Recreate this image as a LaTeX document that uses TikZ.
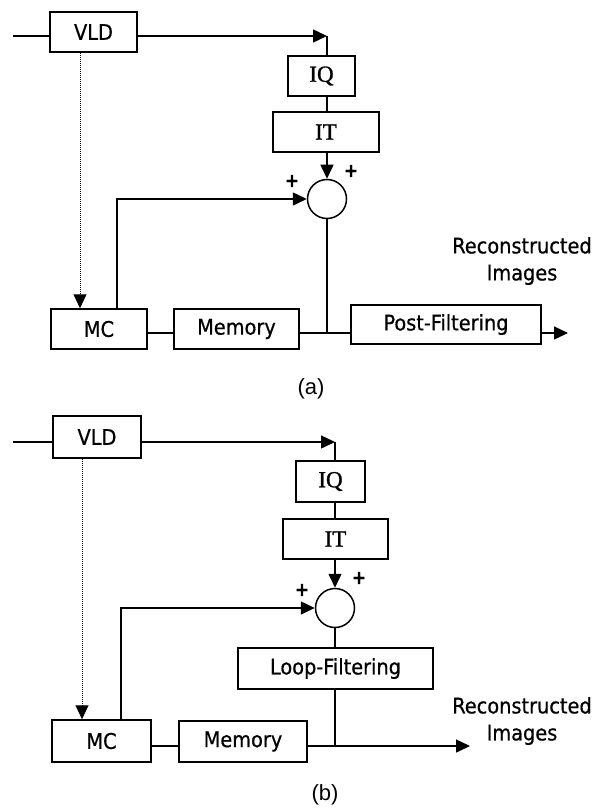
\documentclass[tikz,border=0pt]{standalone}
\usepackage{fontspec}
\setmainfont[FakeBold=0.6]{DejaVu Sans Condensed}
\newfontfamily\serifbox[FakeBold=1.2]{Liberation Serif}
\newfontfamily\captionfont{Liberation Sans}
\usetikzlibrary{arrows.meta}

\tikzset{
  blk/.style={draw, line width=1.5pt, inner sep=0pt, align=center,
              font=\fontsize{21.5}{24}\selectfont},
  sblk/.style={blk, font=\serifbox\fontsize{23}{26}\selectfont},
  sumnode/.style={draw, circle, line width=1.5pt, minimum size=39pt, inner sep=0pt},
  wire/.style={line width=1.5pt},
  arr/.style={wire, -{Triangle[length=14pt,width=13pt]}},
  dotwire/.style={line width=1pt, dash pattern=on 1pt off 1pt,
                  -{Triangle[length=14pt,width=13pt]}},
  sign/.style={font=\fontsize{19}{19}\selectfont\bfseries, inner sep=0pt},
  outlabel/.style={align=center, inner sep=0pt, font=\fontsize{21.5}{27}\selectfont},
  panel/.style={font=\captionfont\fontsize{22}{22}\selectfont, inner sep=0pt}
}

\begin{document}
\begin{tikzpicture}[x=1pt,y=-1pt]
\useasboundingbox (0,0) rectangle (603,810);

% ---------- decoder with post-filtering ----------
\node[blk, minimum width=87pt, minimum height=40pt] (vldA) at (93.5,32) {VLD};
\node[sblk, minimum width=67pt, minimum height=40pt] (iqA) at (321.5,76) {IQ};
\node[sblk, minimum width=106pt, minimum height=40pt] (itA) at (326,132) {IT};
\node[sumnode] (sumA) at (327,199) {};
\node[blk, minimum width=96pt, minimum height=40pt] (mcA) at (99,329) {MC};
\node[blk, minimum width=125pt, minimum height=40pt] (memA) at (236.5,329) {Memory};
\node[blk, minimum width=190pt, minimum height=39pt] (pfA) at (446,324.5) {Post-Filtering};

\coordinate (inA) at (13,36);
\coordinate (cA) at (327,36);
\coordinate (dA) at (80,0);
\coordinate (fA) at (117,199);
\coordinate (jA) at (327,333);
\coordinate (outA) at (568,333);

\draw[wire] (inA) -- (inA -| vldA.west);
\draw[arr] (vldA.east |- cA) -- (cA);
\draw[wire] (cA) -- (cA |- iqA.north);
\draw[wire] (cA |- iqA.south) -- (cA |- itA.north);
\draw[arr] (cA |- itA.south) -- (sumA.north);
\draw[dotwire] (vldA.south -| dA) -- (mcA.north -| dA);
\draw[arr] (mcA.north -| fA) -- (fA) -- (sumA.west);
\draw[wire] (mcA.east |- jA) -- (memA.west |- jA);
\draw[wire] (memA.east |- jA) -- (pfA.west |- jA);
\draw[wire] (sumA.south) -- (jA);
\draw[arr] (pfA.east |- jA) -- (outA);

\node[sign] (pA1) at (292,181) {+};
\node[sign] (pA2) at (351,171) {+};
\node[outlabel] (recA) at (522,261) {Reconstructed\\Images};
\node[panel] (capA) at (311,389) {(a)};

% ---------- decoder with loop-filtering ----------
\node[blk, minimum width=88pt, minimum height=42pt] (vldB) at (97,437) {VLD};
\node[sblk, minimum width=69pt, minimum height=41pt] (iqB) at (330.5,481.5) {IQ};
\node[sblk, minimum width=105pt, minimum height=40pt] (itB) at (335.5,539) {IT};
\node[sumnode] (sumB) at (335,608) {};
\node[blk, minimum width=195pt, minimum height=41pt] (lfB) at (335.5,668.5) {Loop-Filtering};
\node[blk, minimum width=99pt, minimum height=42pt] (mcB) at (101.5,741) {MC};
\node[blk, minimum width=128pt, minimum height=41pt] (memB) at (243,741.5) {Memory};

\coordinate (inB) at (13,442);
\coordinate (cB) at (335,442);
\coordinate (dB) at (82,0);
\coordinate (fB) at (121,608);
\coordinate (jB) at (335,746);
\coordinate (outB) at (470,746);

\draw[wire] (inB) -- (inB -| vldB.west);
\draw[arr] (vldB.east |- cB) -- (cB);
\draw[wire] (cB) -- (cB |- iqB.north);
\draw[wire] (cB |- iqB.south) -- (cB |- itB.north);
\draw[arr] (cB |- itB.south) -- (sumB.north);
\draw[dotwire] (vldB.south -| dB) -- (mcB.north -| dB);
\draw[arr] (mcB.north -| fB) -- (fB) -- (sumB.west);
\draw[wire] (sumB.south) -- (sumB.south |- lfB.north);
\draw[wire] (jB |- lfB.south) -- (jB);
\draw[wire] (mcB.east |- jB) -- (memB.west |- jB);
\draw[arr] (memB.east |- jB) -- (outB);

\node[sign] (pB1) at (302,590) {+};
\node[sign] (pB2) at (359,578) {+};
\node[outlabel] (recB) at (522,721) {Reconstructed\\Images};
\node[panel] (capB) at (325,795) {(b)};
\end{tikzpicture}
\end{document}
